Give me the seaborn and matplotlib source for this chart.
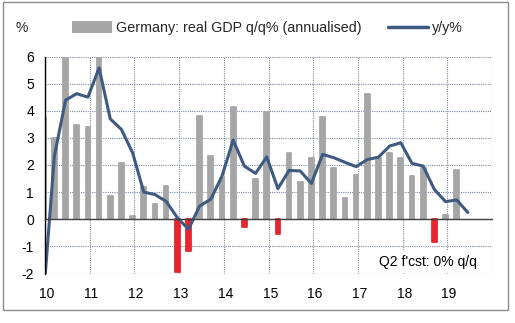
import numpy as np
import pandas as pd
import matplotlib
matplotlib.use("Agg")
import matplotlib.pyplot as plt
from matplotlib.patches import Patch, Rectangle
from matplotlib.lines import Line2D
import seaborn as sns

# Quarterly German GDP: annualised q/q growth (bars) and y/y growth (line)
quarters = pd.period_range("2009Q4", "2019Q2", freq="Q")
qoq_annualised = [3.74, 3.00, 8.60, 3.46, 3.39, 7.00, 0.84, 2.08, 0.13, 1.19,
                  0.55, 1.23, -1.94, -1.16, 3.82, 2.35, 1.53, 4.14, -0.27, 1.47,
                  3.95, -0.55, 2.43, 1.37, 2.27, 3.77, 1.88, 0.77, 1.64, 4.60,
                  2.27, 2.43, 2.27, 1.59, 1.90, -0.83, 0.16, 1.80, 0.00]
yoy = [-3.00, 2.33, 4.39, 4.63, 4.50, 5.58, 3.70, 3.31, 2.45, 1.00,
       0.91, 0.66, 0.06, -0.37, 0.49, 0.74, 1.59, 2.92, 1.96, 1.69,
       2.30, 1.13, 1.80, 1.78, 1.32, 2.39, 2.27, 2.10, 1.94, 2.20,
       2.29, 2.70, 2.82, 2.06, 1.96, 1.10, 0.65, 0.71, 0.25]
year_ticks = list(range(2010, 2021))
year_labels = [f"{y % 100:02d}" for y in year_ticks[:-1]] + [""]
y_ticks = list(range(-2, 7))

GREY = "#a6a6a6"
RED = "#e8252f"
NAVY = "#3e5a81"
GRID = "#7d8aa3"

sns.set_style("white")
plt.rcParams["font.family"] = ["Liberation Sans", "DejaVu Sans"]
plt.rcParams["axes.unicode_minus"] = False

qoq = np.array(qoq_annualised)
# each quarter is placed a little before the quarter's end on a year scale
pos = quarters.year + (quarters.quarter - 1) / 4 + 0.21
df = pd.DataFrame({
    "pos": np.asarray(pos, dtype=float),
    "qoq": qoq,
    "yoy": yoy,
    "sign": np.where(qoq < 0, "neg", "pos"),
})

fig = plt.figure(figsize=(5.15, 3.23), dpi=100)
ax = fig.add_axes([45 / 515, 1 - 273.5 / 323, 447 / 515, 217 / 323])

sns.barplot(data=df, x="pos", y="qoq", hue="sign",
            palette={"pos": GREY, "neg": RED}, saturation=1,
            native_scale=True, dodge=False, width=0.42, errorbar=None,
            legend=False, linewidth=0, ax=ax)
for p in ax.patches:
    if abs(p.get_height()) > 0:
        p.set_edgecolor(p.get_facecolor())
        p.set_linewidth(1.3)
        p.set_joinstyle("round")

sns.lineplot(data=df, x="pos", y="yoy", color=NAVY, linewidth=2.2, ax=ax)
for ln in ax.lines:
    ln.set_solid_joinstyle("round")

ax.set_xlim(2010, 2020)
ax.set_ylim(-2, 6)
ax.set_xlabel("")
ax.set_ylabel("")
ax.set_axisbelow(True)
ax.grid(True, color=GRID, linestyle=(0, (1, 1)), linewidth=0.8)

for side in ("top", "right"):
    ax.spines[side].set_visible(False)
ax.spines["left"].set_color("black")
ax.spines["left"].set_linewidth(1)
ax.spines["bottom"].set_position(("data", 0))
ax.spines["bottom"].set_color("#404040")
ax.spines["bottom"].set_linewidth(1)

ax.set_xticks(year_ticks)
ax.tick_params(axis="x", direction="out", length=3, width=1,
               color="#404040", labelbottom=False)
ax.set_yticks(y_ticks, [str(v) for v in y_ticks])
ax.tick_params(axis="y", direction="out", length=4, width=1, color="black",
               pad=4, labelsize=10, labelcolor="black")

sec = ax.secondary_xaxis("bottom")
sec.set_xticks([y + 0.04 for y in year_ticks], year_labels)
sec.tick_params(length=0, pad=10, labelsize=10, labelcolor="black")
sec.spines["bottom"].set_visible(False)

ax.text(0.747, 0.053, "Q2 f'cst: 0% q/q", transform=ax.transAxes,
        ha="left", va="center", fontsize=10, color="black",
        bbox=dict(boxstyle="square,pad=0.3", facecolor="white",
                  edgecolor="none"), zorder=5)

handles = [Patch(facecolor=GREY, edgecolor="none"),
           Line2D([], [], color=NAVY, linewidth=2.5)]
fig.legend(handles, ["Germany: real GDP q/q% (annualised)", "y/y%"],
           loc="center left", bbox_to_anchor=(72 / 515, 1 - 28 / 323),
           ncol=2, frameon=False, borderpad=0, borderaxespad=0,
           handlelength=2.8, handleheight=0.85, handletextpad=0.25,
           columnspacing=1.9, prop={"size": 10.3})

fig.text(22 / 515, 1 - 28 / 323, "%", ha="center", va="center", fontsize=10)

fig.patches.append(Rectangle((3 / 515, 1 - 310 / 323), 505 / 515, 308 / 323,
                             transform=fig.transFigure, fill=False,
                             edgecolor="#8c8c8c", linewidth=1))

fig.savefig("out.png", dpi=100)
